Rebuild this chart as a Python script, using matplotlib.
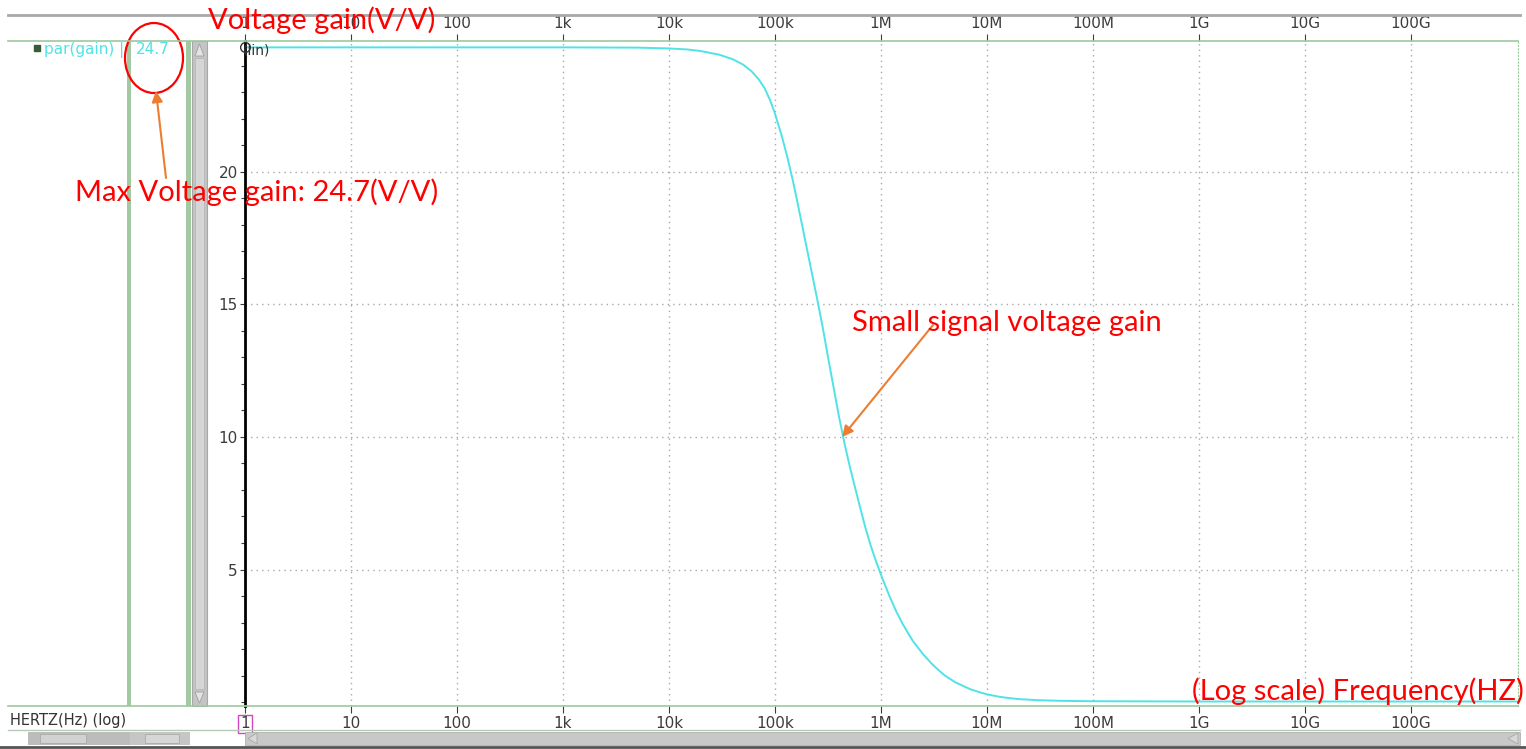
import numpy as np
import matplotlib
matplotlib.use("Agg")
import matplotlib.pyplot as plt
from matplotlib.patches import Ellipse, Rectangle, Polygon
from matplotlib.lines import Line2D

# small signal gain
freq = [1, 10, 100, 1e3, 5e3, 1e4, 1.5e4, 2e4, 3e4, 4e4, 5e4, 6e4, 7e4, 8e4,
        9e4, 1e5, 1.15e5, 1.3e5, 1.45e5, 1.6e5, 1.8e5, 2e5, 2.25e5, 2.5e5,
        2.8e5, 3.2e5, 3.6e5, 4e5, 4.5e5, 5e5, 5.6e5, 6.3e5, 7.1e5, 8e5, 9e5,
        1e6, 1.2e6, 1.4e6, 1.6e6, 1.8e6, 2e6, 2.5e6, 3e6, 3.5e6, 4e6, 5e6,
        6e6, 7e6, 8.5e6, 1e7, 1.3e7, 1.6e7, 2e7, 3e7, 5e7, 1e8, 1e9, 1e10,
        1e11, 1e12]
gain = [24.7, 24.7, 24.7, 24.7, 24.69, 24.66, 24.62, 24.56, 24.42, 24.25,
        24.05, 23.8, 23.5, 23.15, 22.7, 22.2, 21.4, 20.6, 19.8, 19.0, 18.0,
        17.1, 16.1, 15.2, 14.2, 12.9, 11.8, 10.8, 9.8, 9.0, 8.2, 7.4, 6.6,
        5.9, 5.3, 4.8, 4.0, 3.4, 2.95, 2.6, 2.3, 1.8, 1.45, 1.2, 1.0, 0.75,
        0.6, 0.48, 0.37, 0.29, 0.2, 0.15, 0.11, 0.07, 0.045, 0.03, 0.02, 0.02,
        0.02, 0.02]

xtick_vals = [1, 10, 100, 1e3, 1e4, 1e5, 1e6, 1e7, 1e8, 1e9, 1e10, 1e11]
xtick_labels = ['1', '10', '100', '1k', '10k', '100k', '1M', '10M', '100M', '1G', '10G', '100G']
ytick_vals = [5, 10, 15, 20]

W, H = 1526, 749
fig = plt.figure(figsize=(W / 100, H / 100), dpi=100)
fig.patch.set_facecolor('white')

green = '#9dc79d'
tickc = '#3c3c3c'
cyan = '#4fe3e6'
red = '#ff0000'
orange = '#ed7d31'

# plot area in pixels: x 245..1518, y 41..706
L, R, T, B = 245, 1518, 41, 706
ax = fig.add_axes([L / W, 1 - B / H, (R - L) / W, (B - T) / H])
ax.set_xscale('log')
ax.set_xlim(1, 10 ** ((R - L) / 106.0))
ax.set_ylim(-0.15, 24.94)

ax.plot(freq, gain, color=cyan, lw=1.4)

ax.set_xticks(xtick_vals, xtick_labels)
ax.set_yticks(ytick_vals)
ax.yaxis.set_minor_locator(matplotlib.ticker.MultipleLocator(1))
ax.tick_params(axis='x', which='both', top=True, labeltop=True, direction='out',
               colors=tickc, labelsize=11, width=0.8)
ax.tick_params(axis='x', which='major', length=5, pad=2.5)
ax.tick_params(axis='x', which='minor', length=3)
ax.tick_params(axis='y', which='both', direction='out', colors=tickc, labelsize=11, width=0.8)
ax.tick_params(axis='y', which='major', length=3.6, pad=1.5)
ax.tick_params(axis='y', which='minor', length=3)
ax.xaxis.set_minor_formatter(matplotlib.ticker.NullFormatter())

ax.grid(True, which='major', color='#a8a8a8', linestyle=(0, (1, 3)), lw=1)
for s in ['top', 'bottom']:
    ax.spines[s].set_color(green)
    ax.spines[s].set_linewidth(1.2)
ax.spines['right'].set_color(green)
ax.spines['right'].set_linestyle((0, (1, 2)))
ax.spines['left'].set_color('black')
ax.spines['left'].set_linewidth(2)

# boxed "1" marker on bottom axis
t0 = ax.xaxis.get_major_ticks()[0]
t0.label1.set_bbox(dict(boxstyle='square,pad=0.12', fc='white', ec='#d048c0', lw=1))

# overlay in pixel coordinates for the viewer chrome and annotations
ov = fig.add_axes([0, 0, 1, 1], zorder=5)
ov.set_xlim(0, W)
ov.set_ylim(H, 0)
ov.axis('off')
ov.patch.set_alpha(0)

ov.add_line(Line2D([8, 1520], [15, 15], color='#a8a8a8', lw=2))
ov.add_line(Line2D([8, L], [T, T], color=green, lw=1.2))
ov.add_line(Line2D([8, L], [B, B], color=green, lw=1.2))
ov.add_line(Line2D([8, 1520], [730, 730], color='#b8c8b8', lw=1))
ov.add_line(Line2D([0, 1526], [747, 747], color='#555555', lw=2))

# left panel bars
ov.add_patch(Rectangle((127, T), 4, B - T, fc='#a3c9a3', ec='none'))
ov.add_patch(Rectangle((186, T), 5, B - T, fc='#a3c9a3', ec='none'))
ov.add_patch(Rectangle((192, T), 15, B - T, fc='#c4c4c4', ec='#a8a8a8', lw=0.8))
ov.add_patch(Rectangle((195, 58), 9, B - T - 34, fc='#d6d6d6', ec='#b8b8b8', lw=0.6))
ov.add_patch(Polygon([[195, 56], [204, 56], [199.5, 44]], fc='#e4e4e4', ec='#a0a0a0', lw=0.6))
ov.add_patch(Polygon([[195, 692], [204, 692], [199.5, 703]], fc='#e4e4e4', ec='#a0a0a0', lw=0.6))

# bottom scrollbars
ov.add_patch(Rectangle((28, 732), 102, 13, fc='#bcbcbc', ec='none'))
ov.add_patch(Rectangle((40, 734), 46, 9, fc='#d2d2d2', ec='#aaaaaa', lw=0.6))
ov.add_patch(Rectangle((130, 732), 60, 13, fc='#c6c6c6', ec='none'))
ov.add_patch(Rectangle((145, 734), 34, 9, fc='#d6d6d6', ec='#aaaaaa', lw=0.6))
ov.add_patch(Rectangle((L, 732), 1520 - L, 13, fc='#c8c8c8', ec='#b0b0b0', lw=0.6))
ov.add_patch(Polygon([[1518, 733], [1518, 744], [1508, 738.5]], fc='#d8d8d8', ec='#a8a8a8', lw=0.6))
ov.add_patch(Polygon([[L + 3, 738.5], [L + 12, 733], [L + 12, 744]], fc='#d8d8d8', ec='#a8a8a8', lw=0.6))

ov.text(10, 720, 'HERTZ(Hz) (log)', fontsize=10.5, color='#333333', va='center', ha='left')

# legend of the waveform
ov.plot([37], [48], marker='s', ms=5, color='#3a5a3a')
ov.text(44, 50, 'par(gain) |', fontsize=11, color=cyan, va='center', ha='left')
ov.text(136, 50, '24.7', fontsize=11, color=cyan, va='center', ha='left')
ov.plot([245], [47], marker='o', ms=7, mfc='none', mec='#333333', mew=1)
ov.text(243, 51, '(lin)', fontsize=10, color='#333333', va='center', ha='left')

# red annotations
fam = ['Lato', 'DejaVu Sans']
ov.text(208, 20, 'Voltage gain(V/V)', fontsize=21, color=red, family=fam, va='center', ha='left')
ov.text(75, 192, 'Max Voltage gain: 24.7(V/V)', fontsize=21, color=red, family=fam, va='center', ha='left')
ov.text(852, 323, 'Small signal voltage gain', fontsize=21, color=red, family=fam, va='center', ha='left')
ov.text(1192, 691, '(Log scale) Frequency(HZ)', fontsize=21, color=red, family=fam, va='center', ha='left')

ov.add_patch(Ellipse((154, 58), 58, 70, fc='none', ec=red, lw=1.6))
ov.annotate('', xy=(156, 91), xytext=(166, 178),
            arrowprops=dict(arrowstyle='-|>', color=orange, lw=1.5, mutation_scale=16,
                            shrinkA=0, shrinkB=0))
ax.annotate('', xy=(4.3e5, 10.0), xytext=(933, H - 325), textcoords='figure pixels',
            arrowprops=dict(arrowstyle='-|>', color=orange, lw=1.5, mutation_scale=16,
                            shrinkA=0, shrinkB=0))

fig.savefig('out.png', dpi=100)
